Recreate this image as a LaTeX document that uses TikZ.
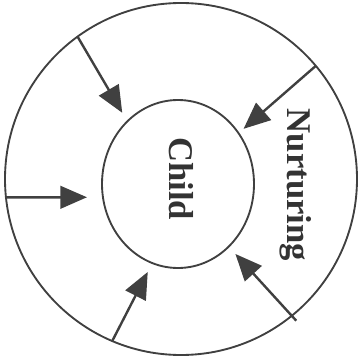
\documentclass[tikz,border=0pt]{standalone}
\usepackage{fontspec}
\setmainfont{Liberation Serif}
\usetikzlibrary{arrows.meta,shapes.geometric}
\begin{document}
\begin{tikzpicture}[x=0.75pt, y=-0.75pt, line width=1.4pt, draw=black!75,
    ring/.style={draw, inner sep=0pt, outer sep=0pt},
    lbl/.style={font=\fontsize{26}{30}\selectfont\bfseries, text=black!80, rotate=-90, inner sep=0pt},
    push/.style={line width=1.8pt, -{Triangle[length=20pt, width=17pt]}, shorten >=7.5pt}]
  \useasboundingbox (0,0) rectangle (362,364);
  \node[ring, circle, minimum size=264pt] (outer) at (181,179) {};
  \node[ring, ellipse, minimum width=114pt, minimum height=126pt] (child) at (178,184) {};
  \node[lbl] (childtext) at (181.5,178.5) {Child};
  \node[lbl] (nurture) at (296,185) {Nurturing};
  % arrows from the nurturing ring inward
  \draw[push] (outer.126) -- (child.129);
  \draw[push, shorten >=5pt] (outer.40) -- (child.40);
  \draw[push, shorten >=12pt] (outer.186) -- (child.190);
  \draw[push] (outer.247) -- (child.252);
  \draw[push, shorten <=-5pt] (outer.309) -- (child.309);
\end{tikzpicture}
\end{document}
